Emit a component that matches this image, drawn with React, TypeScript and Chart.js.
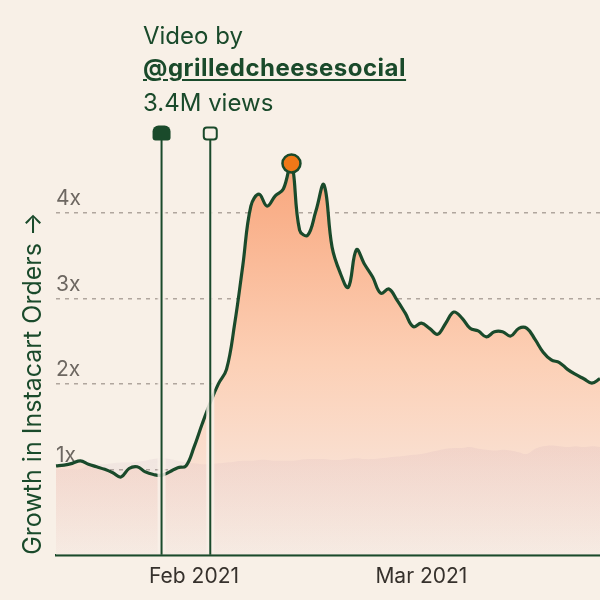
import React, { useEffect, useRef } from "react";
import { Chart, registerables } from "chart.js";

Chart.register(...registerables);

const days = [
  "Jan 15", "Jan 16", "Jan 17", "Jan 18", "Jan 19", "Jan 20", "Jan 21", "Jan 22", "Jan 23", "Jan 24",
  "Jan 25", "Jan 26", "Jan 27", "Jan 28", "Jan 29", "Jan 30", "Jan 31",
  "Feb 1", "Feb 2", "Feb 3", "Feb 4", "Feb 5", "Feb 6", "Feb 7", "Feb 8", "Feb 9", "Feb 10",
  "Feb 11", "Feb 12", "Feb 13", "Feb 14", "Feb 15", "Feb 16", "Feb 17", "Feb 18", "Feb 19", "Feb 20",
  "Feb 21", "Feb 22", "Feb 23", "Feb 24", "Feb 25", "Feb 26", "Feb 27", "Feb 28",
  "Mar 1", "Mar 2", "Mar 3", "Mar 4", "Mar 5", "Mar 6", "Mar 7", "Mar 8", "Mar 9", "Mar 10",
  "Mar 11", "Mar 12", "Mar 13", "Mar 14", "Mar 15", "Mar 16", "Mar 17", "Mar 18", "Mar 19", "Mar 20",
  "Mar 21", "Mar 22", "Mar 23",
];

// growth in orders vs. baseline (1x)
const growth = [
  1.04, 1.05, 1.07, 1.1, 1.06, 1.03, 1.0, 0.96, 0.91, 1.01,
  1.03, 0.97, 0.94, 0.93, 0.97, 1.02, 1.04,
  1.26, 1.53, 1.78, 2.0, 2.17, 2.7, 3.38, 4.08, 4.22, 4.08,
  4.2, 4.28, 4.58, 3.8, 3.74, 4.02, 4.33, 3.6, 3.3, 3.13,
  3.57, 3.4, 3.25, 3.06, 3.11, 2.98, 2.83, 2.67,
  2.71, 2.65, 2.58, 2.71, 2.84, 2.77, 2.65, 2.62, 2.55, 2.61,
  2.61, 2.56, 2.65, 2.65, 2.52, 2.37, 2.28, 2.25, 2.17, 2.11,
  2.06, 2.01, 2.06,
];

// faint backdrop (other products)
const backdrop = [
  1.0, 1.0, 1.0, 1.0, 1.05, 1.06, 1.06, 1.07, 1.08, 1.08,
  1.09, 1.1, 1.12, 1.13, 1.12, 1.1, 1.08,
  1.07, 1.06, 1.06, 1.07, 1.08, 1.09, 1.1, 1.1, 1.11, 1.11,
  1.1, 1.1, 1.1, 1.11, 1.12, 1.12, 1.12, 1.11, 1.11, 1.12,
  1.13, 1.12, 1.12, 1.13, 1.14, 1.15, 1.16, 1.17,
  1.18, 1.2, 1.22, 1.24, 1.25, 1.25, 1.26, 1.24, 1.23, 1.22,
  1.23, 1.22, 1.2, 1.18, 1.24, 1.27, 1.28, 1.27, 1.26, 1.27,
  1.26, 1.27, 1.26,
];

const monthTicks: Record<string, string> = { "Feb 1": "Feb 2021", "Mar 1": "Mar 2021" };
const yTickValues = [1, 2, 3, 4];
const videoDays = ["Jan 28", "Feb 3"];
const peakDay = "Feb 13";

const BG = "#f8f0e7";
const GREEN = "#1a4a2b";
const FONT = "Inter, 'Noto Sans', sans-serif";

const videoLines = {
  id: "videoLines",
  afterDatasetsDraw(chart: any) {
    const { ctx, chartArea, scales } = chart;
    const top = chartArea.top;
    videoDays.forEach((day, i) => {
      const x = scales.x.getPixelForValue(days.indexOf(day));
      ctx.save();
      ctx.strokeStyle = "rgba(248,240,231,0.85)";
      ctx.lineWidth = 8;
      ctx.beginPath();
      ctx.moveTo(x, top + 14);
      ctx.lineTo(x, chartArea.bottom - 2);
      ctx.stroke();
      ctx.strokeStyle = GREEN;
      ctx.lineWidth = 2;
      ctx.beginPath();
      ctx.moveTo(x, top + 10);
      ctx.lineTo(x, chartArea.bottom);
      ctx.stroke();
      ctx.beginPath();
      if (i === 0) {
        ctx.fillStyle = GREEN;
        ctx.roundRect(x - 9, top - 2, 18, 15, [6, 6, 3, 3]);
        ctx.fill();
      } else {
        ctx.fillStyle = BG;
        ctx.lineWidth = 2;
        ctx.roundRect(x - 6.5, top, 13, 12, 3);
        ctx.fill();
        ctx.stroke();
      }
      ctx.restore();
    });
  },
};

const App = () => {
  const chartRef = useRef<HTMLCanvasElement>(null);
  const chartInstanceRef = useRef<Chart | null>(null);

  useEffect(() => {
    if (!chartRef.current) return;
    const context = chartRef.current.getContext("2d");
    if (!context) return;
    const peakIndex = days.indexOf(peakDay);

    chartInstanceRef.current = new Chart(context, {
      type: "line",
      data: {
        labels: days,
        datasets: [
          {
            label: "Backdrop",
            data: backdrop,
            borderWidth: 0,
            pointRadius: 0,
            tension: 0.4,
            fill: "origin",
            backgroundColor: (c: any) => {
              const { ctx, chartArea } = c.chart;
              if (!chartArea) return "rgba(0,0,0,0)";
              const g = ctx.createLinearGradient(0, chartArea.bottom - 110, 0, chartArea.bottom);
              g.addColorStop(0, "rgba(190,150,175,0.13)");
              g.addColorStop(1, "rgba(190,150,175,0.0)");
              return g;
            },
          },
          {
            label: "Growth",
            data: growth,
            borderColor: GREEN,
            borderWidth: 3.2,
            tension: 0.4,
            fill: "origin",
            backgroundColor: (c: any) => {
              const { ctx, chartArea } = c.chart;
              if (!chartArea) return "rgba(0,0,0,0)";
              const g = ctx.createLinearGradient(0, chartArea.top, 0, chartArea.bottom);
              g.addColorStop(0, "#f7a073");
              g.addColorStop(0.2, "#f9b08a");
              g.addColorStop(0.55, "#fcd0b6");
              g.addColorStop(0.8, "#f9e0d2");
              g.addColorStop(1, "#f6ebe3");
              return g;
            },
            pointRadius: (c: any) => (c.dataIndex === peakIndex ? 9 : 0),
            pointHoverRadius: 0,
            pointBackgroundColor: "#f07818",
            pointBorderColor: GREEN,
            pointBorderWidth: 2.5,
          },
        ],
      },
      options: {
        responsive: true,
        maintainAspectRatio: false,
        animation: false,
        layout: {
          padding: { left: 0, right: 0, top: 127.5, bottom: 2 },
        },
        scales: {
          x: {
            type: "category",
            offset: false,
            grid: { display: false, drawTicks: false },
            border: { display: true, color: GREEN, width: 2.5 },
            ticks: {
              autoSkip: false,
              maxRotation: 0,
              padding: 9,
              color: "#36312c",
              font: { family: FONT, size: 21 },
              callback: (_v: any, i: number) => monthTicks[days[i]] ?? null,
            },
          },
          y: {
            min: 0,
            max: 5,
            grid: {
              drawTicks: false,
              color: (c: any) =>
                yTickValues.includes(c.tick?.value) ? "#b0a69e" : "rgba(0,0,0,0)",
              lineWidth: 1.5,
            },
            border: { display: false, dash: [4, 5] },
            ticks: {
              stepSize: 1,
              mirror: true,
              padding: 0,
              labelOffset: -14,
              color: "#6d6761",
              font: { family: FONT, size: 21 },
              callback: (v: any) => (yTickValues.includes(v) ? `${v}x` : ""),
            },
            title: {
              display: true,
              text: "Growth in Instacart Orders \u2192",
              align: "start",
              color: GREEN,
              font: { family: FONT, size: 25 },
              padding: { top: 18, bottom: 8 },
            },
          },
        },
        plugins: {
          legend: { display: false },
          tooltip: { enabled: false },
          filler: { drawTime: "beforeDatasetsDraw" },
        },
      },
      plugins: [videoLines],
    });

    return () => {
      if (chartInstanceRef.current) {
        chartInstanceRef.current.destroy();
        chartInstanceRef.current = null;
      }
    };
  }, []);

  const textStyle: React.CSSProperties = {
    position: "absolute",
    left: 143,
    fontFamily: FONT,
    fontSize: 24,
    lineHeight: "24px",
    color: GREEN,
    whiteSpace: "nowrap",
  };

  return (
    <div style={{ position: "fixed", left: 0, top: 0, width: 600, height: 600, background: BG }}>
      <canvas ref={chartRef} style={{ width: "100%", height: "100%" }} />
      <div style={{ ...textStyle, top: 24 }}>Video by</div>
      <div
        style={{
          ...textStyle,
          top: 56,
          fontWeight: 700,
          letterSpacing: 0.5,
          textDecoration: "underline",
          textDecorationThickness: 2,
          textUnderlineOffset: 3,
        }}
      >
        @grilledcheesesocial
      </div>
      <div style={{ ...textStyle, top: 91 }}>3.4M views</div>
    </div>
  );
};

export default App;
